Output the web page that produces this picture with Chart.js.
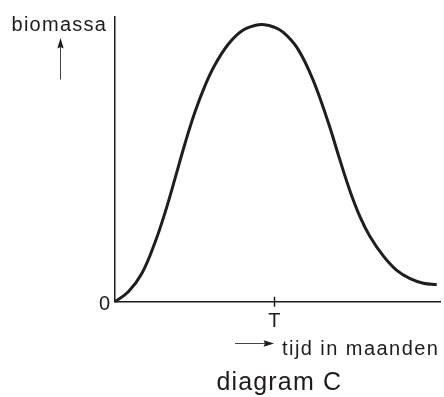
<!DOCTYPE html>
<html>
<head>
<meta charset="utf-8">
<script src="https://cdn.jsdelivr.net/npm/chart.js@4/dist/chart.umd.min.js"></script>
<style>
  html, body { margin: 0; padding: 0; background: #fff; }
  #c { display: block; }
</style>
</head>
<body>
<canvas id="c" width="444" height="397"></canvas>
<script>
// curve (x: time, y: biomass, both in arbitrary units 0-100)
const months = [0, 4.1, 8.2, 12.3, 15.4, 18.5, 21.5, 24.6, 27.7, 30.8, 34.9, 39.0, 43.0, 46.0, 49.0,
                51.8, 55.9, 60.0, 63.1, 66.2, 69.2, 72.3, 75.4, 78.5, 82.6, 86.7, 90.8, 94.9, 99.0];
const biomass = [0, 3.5, 9.8, 20.8, 31.3, 43.4, 55.4, 66.6, 75.9, 83.3, 90.5, 95.1, 97.0, 97.3, 96.4,
                 94.6, 89.4, 80.4, 71.4, 60.9, 49.8, 38.9, 29.8, 22.8, 16.0, 11.0, 8.1, 6.5, 6.0];

// tick labels
const xTickValues = [49];
const xTickLabels = ["T"];
const yTickValues = [0];
const yTickLabels = ["0"];

const ink = "#1f1b1c";
const font = "Liberation Sans";

// fit a string to a given width by spreading the letters a little
function fitText(ctx, text, x, y, width) {
    ctx.letterSpacing = "0px";
    const w = ctx.measureText(text).width;
    const gap = (width - w) / (text.length - 1);
    ctx.letterSpacing = gap.toFixed(2) + "px";
    ctx.fillText(text, x, y);
    ctx.letterSpacing = "0px";
}

const extras = {
    id: "extras",
    afterDraw(chart) {
        const ctx = chart.ctx;
        const xs = chart.scales.x;
        const ys = chart.scales.y;
        ctx.save();

        // T tick mark, across the axis
        ctx.strokeStyle = ink;
        ctx.lineWidth = 1.5;
        xTickValues.forEach(v => {
            const px = Math.round(xs.getPixelForValue(v)) + 0.5;
            const py = ys.getPixelForValue(0);
            ctx.beginPath();
            ctx.moveTo(px, py - 5);
            ctx.lineTo(px, py + 5);
            ctx.stroke();
        });

        ctx.fillStyle = ink;
        ctx.textAlign = "left";
        ctx.textBaseline = "alphabetic";

        // y axis label with arrow
        ctx.font = "20px '" + font + "'";
        fitText(ctx, "biomassa", 11.5, 31, 94.5);

        ctx.strokeStyle = "#444";
        ctx.lineWidth = 1;
        ctx.beginPath();
        ctx.moveTo(60.5, 79.5);
        ctx.lineTo(60.5, 46);
        ctx.stroke();
        ctx.beginPath();
        ctx.moveTo(60.5, 38);
        ctx.lineTo(57.3, 48.5);
        ctx.lineTo(60.5, 47);
        ctx.lineTo(63.7, 48.5);
        ctx.closePath();
        ctx.fill();

        // x axis label with arrow
        ctx.beginPath();
        ctx.moveTo(235, 343.5);
        ctx.lineTo(266, 343.5);
        ctx.stroke();
        ctx.beginPath();
        ctx.moveTo(274, 343.5);
        ctx.lineTo(263.5, 340.3);
        ctx.lineTo(265, 343.5);
        ctx.lineTo(263.5, 346.7);
        ctx.closePath();
        ctx.fill();

        ctx.font = "20px '" + font + "'";
        fitText(ctx, "tijd in maanden", 282, 354.5, 156);

        // caption
        ctx.font = "25px '" + font + "'";
        fitText(ctx, "diagram C", 216.5, 389.5, 124.5);

        ctx.restore();
    }
};

new Chart(document.getElementById("c"), {
    type: "line",
    data: {
        datasets: [{
            data: months.map((m, i) => ({ x: m, y: biomass[i] })),
            borderColor: "#1e1e1e",
            borderWidth: 3,
            pointRadius: 0,
            tension: 0.4,
            fill: false,
            clip: 6
        }]
    },
    options: {
        responsive: false,
        animation: false,
        events: [],
        layout: { padding: { left: 0, top: 12.7, right: 4, bottom: 0 } },
        plugins: {
            legend: { display: false },
            tooltip: { enabled: false },
            title: { display: false }
        },
        scales: {
            x: {
                type: "linear",
                min: 0,
                max: 100,
                afterFit(scale) { scale.height = 95.3; },
                afterBuildTicks(scale) {
                    scale.ticks = xTickValues.map(v => ({ value: v }));
                },
                ticks: {
                    padding: 8,
                    color: ink,
                    font: { family: font, size: 20 },
                    maxRotation: 0,
                    autoSkip: false,
                    callback: (v) => xTickLabels[xTickValues.indexOf(v)]
                },
                grid: { display: false, drawTicks: false },
                border: { display: true, color: ink, width: 1.5 }
            },
            y: {
                type: "linear",
                min: 0,
                max: 100,
                afterFit(scale) { scale.width = 115; },
                afterBuildTicks(scale) {
                    scale.ticks = yTickValues.map(v => ({ value: v }));
                },
                ticks: {
                    padding: 5,
                    labelOffset: 2.5,
                    color: ink,
                    font: { family: font, size: 20 },
                    callback: (v) => yTickLabels[yTickValues.indexOf(v)]
                },
                grid: { display: false, drawTicks: false },
                border: { display: true, color: ink, width: 1.5 }
            }
        }
    },
    plugins: [extras]
});
</script>
</body>
</html>
